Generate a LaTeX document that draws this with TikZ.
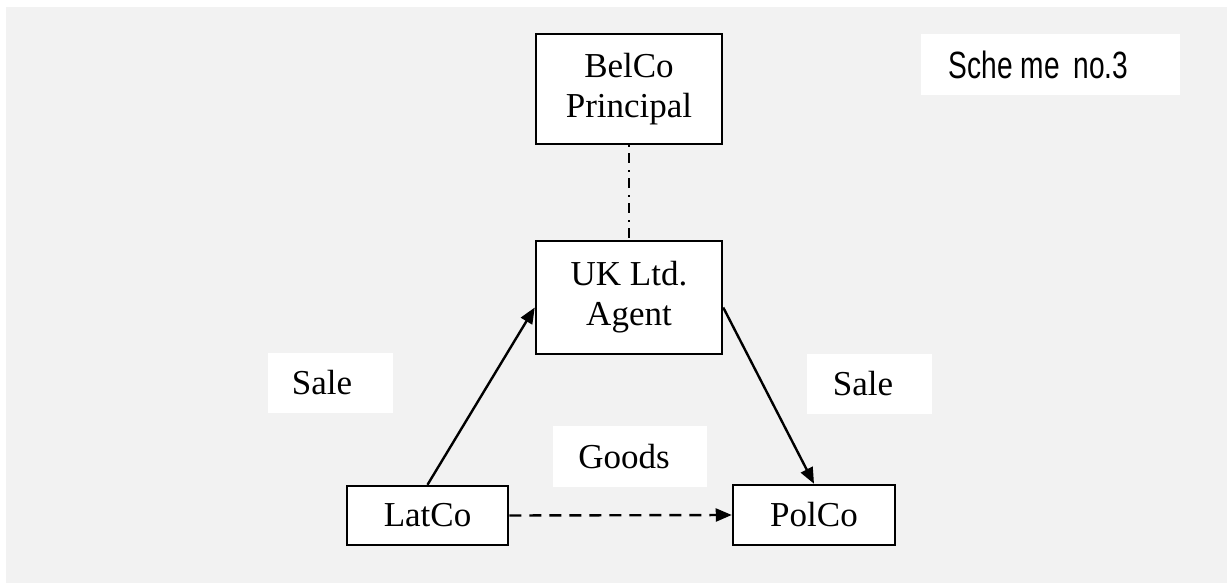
\documentclass[tikz,border=0pt]{standalone}
\usepackage{fontspec}
\setmainfont{Liberation Serif}
\newfontfamily\narrowfont[FakeStretch=0.74]{Liberation Sans}
\usetikzlibrary{arrows.meta,calc}
\definecolor{bggray}{HTML}{F2F2F2}
\tikzset{
  box/.style={draw=black, line width=2.5pt, fill=white, align=center, inner sep=0pt,
    font=\fontsize{35}{40}\selectfont},
  labelbox/.style={fill=white, inner sep=0pt, minimum width=125pt, minimum height=60pt,
    font=\fontsize{35}{40}\selectfont},
  conn/.style={line width=2.4pt, -{Triangle[length=16pt,width=13pt]}},
}
\begin{document}
\begin{tikzpicture}[x=1pt,y=-1pt]
\useasboundingbox (0,0) rectangle (1227,583);
\fill[bggray] (6,7) rectangle (1227,583);

\node[box, minimum width=186pt, minimum height=110pt] (belco) at (629,89) {BelCo\\Principal};
\node[box, minimum width=186pt, minimum height=113pt] (uk) at (629,297.5) {UK Ltd.\\Agent};
\node[box, minimum width=161pt, minimum height=59pt] (lat) at (427.5,515.5) {LatCo};
\node[box, minimum width=162pt, minimum height=60pt] (pol) at (814,515) {PolCo};

\node[labelbox] (sale1) at (330.5,383) {Sale\hspace*{17pt}};
\node[labelbox] (sale2) at (869.5,383.5) {Sale\hspace*{13pt}};
\node[labelbox, minimum width=154pt, minimum height=61pt] (goods) at (630,456.5) {Goods\hspace*{12pt}};
\node[fill=white, inner sep=0pt, minimum width=259pt, minimum height=61pt,
      font=\narrowfont\fontsize{38}{40}\selectfont] (scheme) at (1050.5,64.5) {Sche me\hspace*{6pt} no.3\hspace*{24pt}};

\draw[line width=1.8pt, dash pattern=on 2pt off 6pt on 10pt off 7pt] (belco.south) -- (uk.north);
\draw[conn] (lat.north) -- ([yshift=-10pt]uk.west);
\draw[conn] ([yshift=-10pt]uk.east) -- (pol.north);
\draw[conn, dash pattern=on 12pt off 8pt] (lat.east) -- (pol.west);
\end{tikzpicture}
\end{document}
